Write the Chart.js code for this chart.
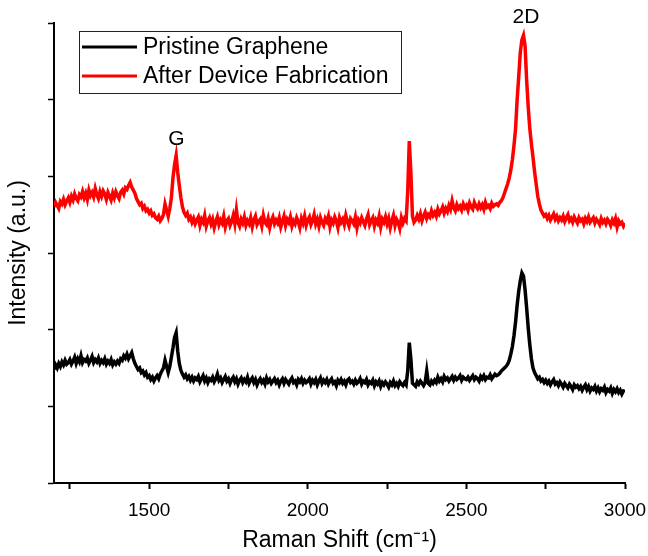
<!DOCTYPE html>
<html>
<head>
<meta charset="utf-8">
<script src="https://cdn.jsdelivr.net/npm/chart.js@4.4.0/dist/chart.umd.min.js"></script>
<style>
  html, body { margin: 0; padding: 0; background: #fff; }
</style>
</head>
<body>
<canvas id="chart-area" width="648" height="556"></canvas>
<script>
// Raman shift grid (cm-1)
var shift = [
    1200, 1205, 1210, 1215, 1220, 1225, 1230, 1235, 1240, 1245,
    1250, 1255, 1260, 1265, 1270, 1275, 1280, 1285, 1290, 1295,
    1300, 1305, 1310, 1315, 1320, 1325, 1330, 1335, 1340, 1345,
    1350, 1355, 1360, 1365, 1370, 1375, 1380, 1385, 1390, 1395,
    1400, 1405, 1410, 1415, 1420, 1425, 1430, 1435, 1440, 1445,
    1450, 1455, 1460, 1465, 1470, 1475, 1480, 1485, 1490, 1495,
    1500, 1505, 1510, 1515, 1520, 1525, 1530, 1535, 1540, 1545,
    1550, 1555, 1560, 1565, 1570, 1575, 1580, 1585, 1590, 1595,
    1600, 1605, 1610, 1615, 1620, 1625, 1630, 1635, 1640, 1645,
    1650, 1655, 1660, 1665, 1670, 1675, 1680, 1685, 1690, 1695,
    1700, 1705, 1710, 1715, 1720, 1725, 1730, 1735, 1740, 1745,
    1750, 1755, 1760, 1765, 1770, 1775, 1780, 1785, 1790, 1795,
    1800, 1805, 1810, 1815, 1820, 1825, 1830, 1835, 1840, 1845,
    1850, 1855, 1860, 1865, 1870, 1875, 1880, 1885, 1890, 1895,
    1900, 1905, 1910, 1915, 1920, 1925, 1930, 1935, 1940, 1945,
    1950, 1955, 1960, 1965, 1970, 1975, 1980, 1985, 1990, 1995,
    2000, 2005, 2010, 2015, 2020, 2025, 2030, 2035, 2040, 2045,
    2050, 2055, 2060, 2065, 2070, 2075, 2080, 2085, 2090, 2095,
    2100, 2105, 2110, 2115, 2120, 2125, 2130, 2135, 2140, 2145,
    2150, 2155, 2160, 2165, 2170, 2175, 2180, 2185, 2190, 2195,
    2200, 2205, 2210, 2215, 2220, 2225, 2230, 2235, 2240, 2245,
    2250, 2255, 2260, 2265, 2270, 2275, 2280, 2285, 2290, 2295,
    2300, 2305, 2310, 2315, 2320, 2325, 2330, 2335, 2340, 2345,
    2350, 2355, 2360, 2365, 2370, 2375, 2380, 2385, 2390, 2395,
    2400, 2405, 2410, 2415, 2420, 2425, 2430, 2435, 2440, 2445,
    2450, 2455, 2460, 2465, 2470, 2475, 2480, 2485, 2490, 2495,
    2500, 2505, 2510, 2515, 2520, 2525, 2530, 2535, 2540, 2545,
    2550, 2555, 2560, 2565, 2570, 2575, 2580, 2585, 2590, 2595,
    2600, 2605, 2610, 2615, 2620, 2625, 2630, 2635, 2640, 2645,
    2650, 2655, 2660, 2665, 2670, 2675, 2680, 2685, 2690, 2695,
    2700, 2705, 2710, 2715, 2720, 2725, 2730, 2735, 2740, 2745,
    2750, 2755, 2760, 2765, 2770, 2775, 2780, 2785, 2790, 2795,
    2800, 2805, 2810, 2815, 2820, 2825, 2830, 2835, 2840, 2845,
    2850, 2855, 2860, 2865, 2870, 2875, 2880, 2885, 2890, 2895,
    2900, 2905, 2910, 2915, 2920, 2925, 2930, 2935, 2940, 2945,
    2950, 2955, 2960, 2965, 2970, 2975, 2980, 2985, 2990, 2995,
    3000
];

// black trace (offset, a.u.)
var pristine = [
    1.48, 1.54, 1.50, 1.56, 1.52, 1.58, 1.54, 1.60, 1.55, 1.57,
    1.61, 1.55, 1.59, 1.64, 1.56, 1.62, 1.58, 1.66, 1.57, 1.61,
    1.59, 1.63, 1.56, 1.60, 1.65, 1.57, 1.61, 1.58, 1.63, 1.56,
    1.60, 1.57, 1.62, 1.55, 1.59, 1.56, 1.61, 1.54, 1.58, 1.55,
    1.59, 1.56, 1.62, 1.60, 1.66, 1.63, 1.68, 1.62, 1.66, 1.70,
    1.62, 1.56, 1.52, 1.48, 1.50, 1.44, 1.46, 1.41, 1.44, 1.38,
    1.40, 1.35, 1.38, 1.33, 1.37, 1.40, 1.36, 1.42, 1.46, 1.50,
    1.60, 1.52, 1.44, 1.52, 1.64, 1.76, 1.90, 1.96, 1.72, 1.56,
    1.47, 1.42, 1.38, 1.41, 1.36, 1.39, 1.34, 1.38, 1.33, 1.37,
    1.35, 1.39, 1.32, 1.36, 1.40, 1.33, 1.37, 1.31, 1.36, 1.34,
    1.38, 1.32, 1.36, 1.42, 1.34, 1.37, 1.31, 1.35, 1.39, 1.33,
    1.36, 1.30, 1.35, 1.38, 1.32, 1.36, 1.29, 1.34, 1.37, 1.31,
    1.35, 1.32, 1.38, 1.30, 1.34, 1.37, 1.31, 1.35, 1.28, 1.33,
    1.36, 1.31, 1.34, 1.29, 1.37, 1.32, 1.35, 1.30, 1.33, 1.36,
    1.31, 1.34, 1.28, 1.33, 1.36, 1.30, 1.35, 1.32, 1.29, 1.34,
    1.37, 1.31, 1.33, 1.28, 1.35, 1.32, 1.36, 1.30, 1.34, 1.31,
    1.33, 1.36, 1.29, 1.34, 1.31, 1.35, 1.28, 1.33, 1.37, 1.30,
    1.34, 1.31, 1.35, 1.29, 1.33, 1.36, 1.30, 1.32, 1.27, 1.34,
    1.31, 1.35, 1.30, 1.33, 1.28, 1.34, 1.36, 1.31, 1.33, 1.29,
    1.34, 1.30, 1.32, 1.36, 1.29, 1.33, 1.31, 1.35, 1.28, 1.32,
    1.30, 1.34, 1.27, 1.32, 1.29, 1.33, 1.26, 1.31, 1.28, 1.32,
    1.29, 1.25, 1.31, 1.28, 1.33, 1.27, 1.30, 1.26, 1.32, 1.29,
    1.27, 1.31, 1.28, 1.46, 1.83, 1.62, 1.30, 1.28, 1.26, 1.32,
    1.29, 1.33, 1.30, 1.27, 1.31, 1.46, 1.30, 1.28, 1.33, 1.30,
    1.34, 1.31, 1.38, 1.33, 1.36, 1.32, 1.39, 1.35, 1.37, 1.33,
    1.36, 1.39, 1.34, 1.38, 1.35, 1.37, 1.40, 1.34, 1.38, 1.36,
    1.35, 1.38, 1.34, 1.37, 1.40, 1.35, 1.38, 1.36, 1.33, 1.39,
    1.36, 1.40, 1.35, 1.38, 1.37, 1.41, 1.36, 1.39, 1.42, 1.40,
    1.41, 1.43, 1.46, 1.48, 1.50, 1.52, 1.55, 1.60, 1.68, 1.78,
    1.92, 2.10, 2.32, 2.50, 2.64, 2.74, 2.70, 2.52, 2.28, 2.02,
    1.80, 1.62, 1.50, 1.44, 1.40, 1.36, 1.38, 1.33, 1.35, 1.31,
    1.34, 1.30, 1.33, 1.28, 1.32, 1.35, 1.29, 1.31, 1.27, 1.32,
    1.29, 1.25, 1.30, 1.27, 1.24, 1.29, 1.26, 1.22, 1.28, 1.25,
    1.27, 1.23, 1.26, 1.21, 1.25, 1.28, 1.22, 1.26, 1.20, 1.24,
    1.22, 1.26, 1.20, 1.24, 1.19, 1.23, 1.21, 1.25, 1.18, 1.22,
    1.20, 1.24, 1.17, 1.22, 1.19, 1.23, 1.18, 1.21, 1.16, 1.20,
    1.19
];

// red trace (offset, a.u.)
var afterFab = [
    3.60, 3.66, 3.62, 3.58, 3.67, 3.64, 3.70, 3.63, 3.68, 3.72,
    3.66, 3.74, 3.69, 3.77, 3.71, 3.68, 3.76, 3.73, 3.80, 3.72,
    3.78, 3.70, 3.82, 3.75, 3.79, 3.73, 3.84, 3.76, 3.71, 3.80,
    3.74, 3.81, 3.77, 3.70, 3.79, 3.74, 3.69, 3.78, 3.72, 3.80,
    3.75, 3.71, 3.79, 3.82, 3.77, 3.85, 3.83, 3.88, 3.92, 3.86,
    3.82, 3.78, 3.71, 3.67, 3.63, 3.65, 3.58, 3.61, 3.55, 3.57,
    3.52, 3.55, 3.49, 3.51, 3.46, 3.44, 3.48, 3.42, 3.45, 3.50,
    3.64, 3.56, 3.48, 3.58, 3.72, 3.98, 4.15, 4.27, 4.05, 3.88,
    3.72, 3.60, 3.53, 3.49, 3.52, 3.44, 3.47, 3.40, 3.45, 3.38,
    3.43, 3.47, 3.36, 3.44, 3.40, 3.49, 3.35, 3.42, 3.46, 3.38,
    3.44, 3.33, 3.41, 3.47, 3.37, 3.43, 3.39, 3.48, 3.34, 3.42,
    3.45, 3.36, 3.41, 3.49, 3.38, 3.56, 3.40, 3.35, 3.44, 3.39,
    3.47, 3.36, 3.42, 3.38, 3.46, 3.34, 3.43, 3.48, 3.37, 3.41,
    3.44, 3.35, 3.49, 3.40, 3.37, 3.45, 3.33, 3.42, 3.47, 3.38,
    3.43, 3.39, 3.46, 3.34, 3.41, 3.48, 3.36, 3.44, 3.40, 3.47,
    3.35, 3.42, 3.38, 3.46, 3.41, 3.33, 3.45, 3.39, 3.48, 3.36,
    3.43, 3.47, 3.37, 3.42, 3.50, 3.38, 3.44, 3.35, 3.46, 3.40,
    3.36, 3.45, 3.41, 3.48, 3.34, 3.43, 3.39, 3.47, 3.42, 3.33,
    3.46, 3.40, 3.44, 3.37, 3.49, 3.41, 3.35, 3.45, 3.42, 3.38,
    3.47, 3.33, 3.43, 3.39, 3.46, 3.41, 3.36, 3.44, 3.50, 3.37,
    3.42, 3.46, 3.35, 3.43, 3.39, 3.48, 3.34, 3.44, 3.40, 3.47,
    3.38, 3.45, 3.33, 3.42, 3.49, 3.36, 3.44, 3.40, 3.32, 3.46,
    3.39, 3.45, 3.42, 3.80, 4.46, 4.05, 3.48, 3.40, 3.43, 3.49,
    3.44, 3.51, 3.42, 3.48, 3.53, 3.45, 3.50, 3.47, 3.55, 3.49,
    3.53, 3.48, 3.57, 3.51, 3.55, 3.60, 3.52, 3.58, 3.54, 3.62,
    3.57, 3.68, 3.59, 3.55, 3.63, 3.58, 3.61, 3.56, 3.64, 3.59,
    3.62, 3.56, 3.65, 3.60, 3.57, 3.66, 3.61, 3.58, 3.64, 3.59,
    3.63, 3.57, 3.66, 3.60, 3.62, 3.58, 3.65, 3.61, 3.63, 3.64,
    3.62, 3.66, 3.68, 3.72, 3.78, 3.84, 3.90, 3.98, 4.08, 4.22,
    4.40, 4.62, 5.00, 5.30, 5.62, 5.78, 5.84, 5.70, 5.25, 4.90,
    4.62, 4.42, 4.25, 4.06, 3.90, 3.74, 3.64, 3.56, 3.52, 3.48,
    3.50, 3.45, 3.49, 3.43, 3.47, 3.51, 3.44, 3.48, 3.42, 3.46,
    3.43, 3.48, 3.41, 3.46, 3.50, 3.42, 3.45, 3.40, 3.47, 3.43,
    3.39, 3.46, 3.42, 3.44, 3.38, 3.45, 3.41, 3.47, 3.40, 3.43,
    3.46, 3.39, 3.44, 3.41, 3.37, 3.45, 3.40, 3.43, 3.38, 3.44,
    3.41, 3.36, 3.43, 3.39, 3.45, 3.34, 3.42, 3.38, 3.40, 3.35,
    3.39
];

var seriesNames = ['Pristine Graphene', 'After Device Fabrication'];
var seriesColors = ['#000000', '#ff0000'];

var xTicks = [1250, 1500, 1750, 2000, 2250, 2500, 2750, 3000];
var xLabelled = [1500, 2000, 2500, 3000];
var yTicks = [0, 1, 2, 3, 4, 5, 6];

var peakNames = ['G', '2D'];
var peakShift = [1586, 2688];
var peakLabelY = [4.49, 6.07];

var FONT = '"Liberation Sans", Arial, sans-serif';

function points(values) {
    var out = [];
    for (var i = 0; i < shift.length; i++) {
        out.push({x: shift[i], y: values[i]});
    }
    return out;
}

// legend box + peak names
var extras = {
    id: 'extras',
    afterDraw: function(chart) {
        var ctx = chart.ctx;
        var xs = chart.scales.x, ys = chart.scales.y;
        ctx.save();
        ctx.fillStyle = '#000';
        ctx.font = '21px ' + FONT;
        ctx.textAlign = 'center';
        ctx.textBaseline = 'middle';
        for (var i = 0; i < peakNames.length; i++) {
            ctx.fillText(peakNames[i], xs.getPixelForValue(peakShift[i]), ys.getPixelForValue(peakLabelY[i]));
        }

        var bx = 79, by = 31, bw = 322, bh = 62;
        ctx.strokeStyle = '#222';
        ctx.lineWidth = 1;
        ctx.strokeRect(bx + 0.5, by + 0.5, bw, bh);
        ctx.textAlign = 'left';
        ctx.font = '23px ' + FONT;
        for (var j = 0; j < seriesNames.length; j++) {
            var ly = by + 16 + j * 29;
            ctx.strokeStyle = seriesColors[j];
            ctx.lineWidth = 3;
            ctx.beginPath();
            ctx.moveTo(bx + 3, ly);
            ctx.lineTo(bx + 58, ly);
            ctx.stroke();
            ctx.fillStyle = '#000';
            ctx.fillText(seriesNames[j], bx + 64, ly + 1);
        }
        ctx.restore();
    }
};

window.onload = function() {
    var ctx = document.getElementById('chart-area').getContext('2d');
    window.myLine = new Chart(ctx, {
        type: 'line',
        data: {
            datasets: [{
                label: seriesNames[0],
                data: points(pristine),
                borderColor: seriesColors[0],
                borderWidth: 3.5,
                pointRadius: 0,
                tension: 0
            }, {
                label: seriesNames[1],
                data: points(afterFab),
                borderColor: seriesColors[1],
                borderWidth: 3.5,
                pointRadius: 0,
                tension: 0
            }]
        },
        options: {
            responsive: false,
            animation: false,
            layout: {
                padding: {left: 0, top: 23, right: 23, bottom: 0}
            },
            plugins: {
                legend: {display: false},
                tooltip: {enabled: false}
            },
            scales: {
                x: {
                    type: 'linear',
                    min: 1200,
                    max: 3000,
                    afterBuildTicks: function(scale) {
                        scale.ticks = xTicks.map(function(v) { return {value: v}; });
                    },
                    afterFit: function(scale) {
                        scale.height = 73;
                        scale.paddingLeft = 0;
                        scale.paddingRight = 0;
                    },
                    border: {color: '#000', width: 2},
                    grid: {
                        drawOnChartArea: false,
                        tickLength: 6,
                        tickColor: '#000',
                        tickWidth: 2
                    },
                    ticks: {
                        color: '#000',
                        padding: 10,
                        maxRotation: 0,
                        autoSkip: false,
                        font: {family: FONT, size: 19},
                        callback: function(v) {
                            return xLabelled.indexOf(v) >= 0 ? String(v) : '';
                        }
                    },
                    title: {
                        display: true,
                        text: 'Raman Shift (cm\u207B\u00B9)',
                        color: '#000',
                        font: {family: FONT, size: 23},
                        padding: {top: 0, bottom: 2}
                    }
                },
                y: {
                    min: 0,
                    max: 6,
                    afterBuildTicks: function(scale) {
                        scale.ticks = yTicks.map(function(v) { return {value: v}; });
                    },
                    afterFit: function(scale) {
                        scale.width = 54;
                    },
                    border: {color: '#000', width: 2},
                    grid: {
                        drawOnChartArea: false,
                        tickLength: 6,
                        tickColor: '#000',
                        tickWidth: 1.5
                    },
                    ticks: {display: false},
                    title: {
                        display: true,
                        text: 'Intensity (a.u.)',
                        color: '#000',
                        font: {family: FONT, size: 23},
                        padding: {top: 5, bottom: 0}
                    }
                }
            }
        },
        plugins: [extras]
    });
};
</script>
</body>
</html>
